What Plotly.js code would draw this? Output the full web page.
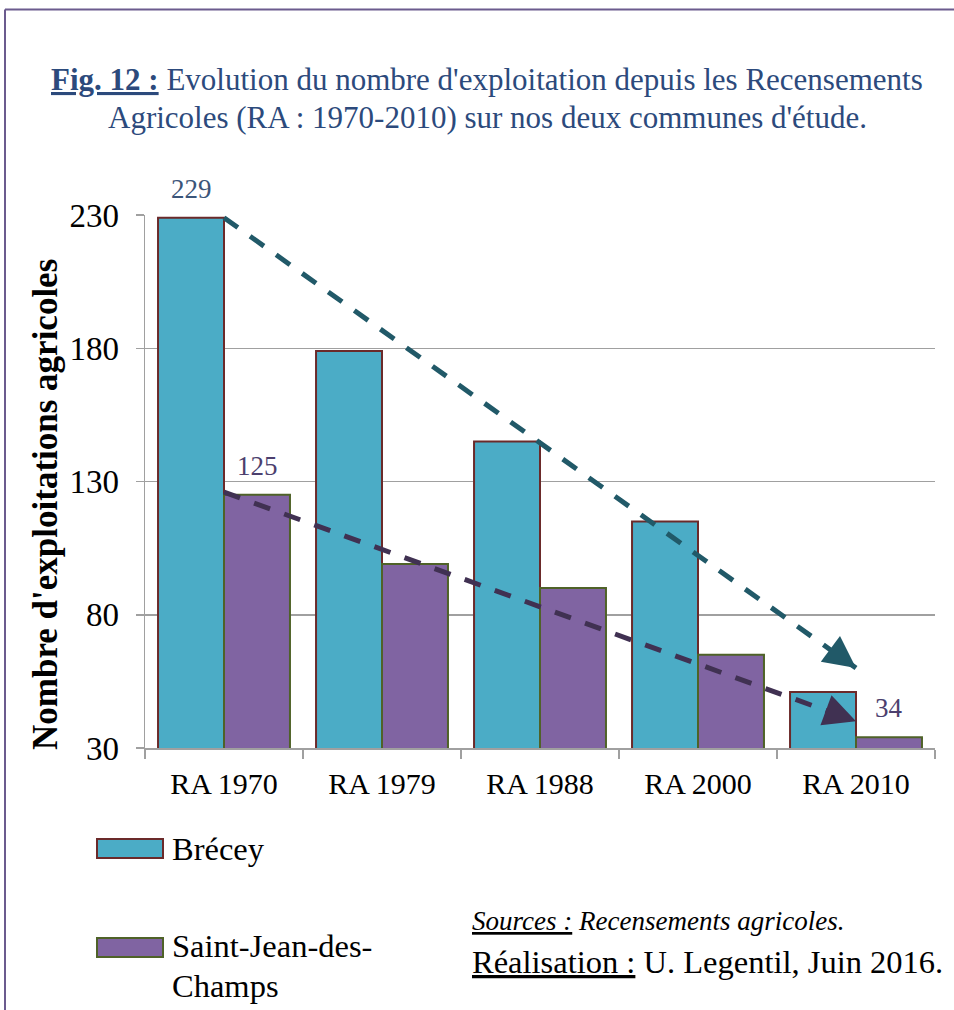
<!DOCTYPE html>
<html><head><meta charset="utf-8">
<script src="https://cdn.plot.ly/plotly-3.0.1.min.js"></script>
<style>body{margin:0;background:#fff}#chart{width:954px;height:1010px}</style>
</head><body><div id="chart"></div>
<script>
const categories = ['RA 1970','RA 1979','RA 1988','RA 2000','RA 2010'];
const brecey = [229, 179, 145, 115, 51];
const saintJean = [125, 99, 90, 65, 34];
const trendBreceyY = [229, 60];
const trendSaintY = [126, 40];
const trendX = [0, 4];
const yTicks = [30, 80, 130, 180, 230];

const serif = '"Liberation Serif", "Times New Roman", Times, serif';
const W = 954, H = 1010, L = 145, R = 19, T = 215, B = 262;
const pw = W - L - R, ph = H - T - B;
const px = v => (v - L) / pw;
const py = v => (H - B - v) / ph;

const traces = [
  {type:'bar', name:'Brécey', x:categories, y:brecey,
   marker:{color:'#4bacc6', line:{color:'#6b2a2a', width:2}}},
  {type:'bar', name:'Saint-Jean-des-Champs', x:categories, y:saintJean,
   marker:{color:'#8064a2', line:{color:'#4f6228', width:2}}}
];

const shapes = [
  {type:'line', xref:'x', yref:'y', x0:trendX[0], x1:trendX[1], y0:trendBreceyY[0], y1:trendBreceyY[1],
   line:{color:'#215968', width:5, dash:'17px,15px'}},
  {type:'line', xref:'x', yref:'y', x0:trendX[0], x1:trendX[1], y0:trendSaintY[0], y1:trendSaintY[1],
   line:{color:'#403152', width:5, dash:'17px,15px'}},
  {type:'line', xref:'paper', yref:'paper', x0:px(5), x1:px(960), y0:py(9.5), y1:py(9.5), line:{color:'#6b5b8e', width:2}},
  {type:'line', xref:'paper', yref:'paper', x0:px(5), x1:px(5), y0:py(9.5), y1:py(1015), line:{color:'#6b5b8e', width:2}},
  {type:'rect', xref:'paper', yref:'paper', x0:px(97), x1:px(163), y0:py(839), y1:py(858), fillcolor:'#4bacc6', line:{color:'#6b2a2a', width:2}},
  {type:'rect', xref:'paper', yref:'paper', x0:px(97), x1:px(163), y0:py(938), y1:py(957), fillcolor:'#8064a2', line:{color:'#4f6228', width:2}}
];

const annotations = [
  {xref:'paper', yref:'paper', x:px(487), y:py(80), text:'<b><u>Fig. 12 :</u></b> Evolution du nombre d\'exploitation depuis les Recensements',
   showarrow:false, font:{family:serif, size:31, color:'#2c4a7c'}, xanchor:'center', yanchor:'middle'},
  {xref:'paper', yref:'paper', x:px(487), y:py(118), text:'Agricoles (RA : 1970-2010) sur nos deux communes d\'étude.',
   showarrow:false, font:{family:serif, size:31, color:'#2c4a7c'}, xanchor:'center', yanchor:'middle'},
  {xref:'paper', yref:'paper', x:px(45), y:py(505), text:'<b>Nombre d\'exploitations agricoles</b>', textangle:-90,
   showarrow:false, font:{family:serif, size:35, color:'#000'}, xanchor:'center', yanchor:'middle'},
  {xref:'x', yref:'y', x:0, y:brecey[0], xshift:-33, yshift:12, yanchor:'bottom', text:String(brecey[0]), showarrow:false,
   font:{family:serif, size:27, color:'#3b5579'}},
  {xref:'x', yref:'y', x:0, y:saintJean[0], xshift:33, yshift:12, yanchor:'bottom', text:String(saintJean[0]), showarrow:false,
   font:{family:serif, size:27, color:'#4c3f6e'}},
  {xref:'x', yref:'y', x:4, y:saintJean[4], xshift:33, yshift:12, yanchor:'bottom', text:String(saintJean[4]), showarrow:false,
   font:{family:serif, size:27, color:'#4c3f6e'}},
  {xref:'x', yref:'y', x:trendX[1], y:trendBreceyY[1], ax:-16, ay:-12, text:'', showarrow:true,
   arrowhead:2, arrowsize:1.6, arrowwidth:4, arrowcolor:'#215968'},
  {xref:'x', yref:'y', x:trendX[1], y:trendSaintY[1], ax:-19, ay:-7, text:'', showarrow:true,
   arrowhead:2, arrowsize:1.6, arrowwidth:4, arrowcolor:'#403152'},
  {xref:'paper', yref:'paper', x:px(170), y:py(849), text:'Brécey', showarrow:false, xanchor:'left', yanchor:'middle',
   font:{family:serif, size:32.5, color:'#000'}},
  {xref:'paper', yref:'paper', x:px(170), y:py(946), text:'Saint-Jean-des-', showarrow:false, xanchor:'left', yanchor:'middle',
   font:{family:serif, size:32.5, color:'#000'}},
  {xref:'paper', yref:'paper', x:px(170), y:py(986), text:'Champs', showarrow:false, xanchor:'left', yanchor:'middle',
   font:{family:serif, size:32.5, color:'#000'}},
  {xref:'paper', yref:'paper', x:px(470), y:py(921), text:'<i><u>Sources :</u> Recensements agricoles.</i>', showarrow:false, xanchor:'left', yanchor:'middle',
   font:{family:serif, size:27, color:'#000'}},
  {xref:'paper', yref:'paper', x:px(470), y:py(962), text:'<u>Réalisation :</u> U. Legentil, Juin 2016.', showarrow:false, xanchor:'left', yanchor:'middle',
   font:{family:serif, size:32.5, color:'#000'}}
];

const layout = {
  width:W, height:H, margin:{l:L, r:R, t:T, b:B},
  paper_bgcolor:'#fff', plot_bgcolor:'#fff',
  showlegend:false, barmode:'group', bargap:0.165, bargroupgap:0,
  font:{family:serif, color:'#000'},
  xaxis:{type:'category', showline:true, linecolor:'#a0a0a0', linewidth:1.5, ticks:'outside', tickson:'boundaries',
         ticklen:9, tickcolor:'#a0a0a0', tickwidth:1.5, ticklabelstandoff:8,
         tickfont:{family:serif, size:30, color:'#000'}, showgrid:false},
  yaxis:{range:[30,230], tickvals:yTicks, showline:true, linecolor:'#a0a0a0', linewidth:1.5, ticks:'outside', ticklen:8,
         tickcolor:'#a0a0a0', tickwidth:1.5, gridcolor:'#a0a0a0', gridwidth:1.5, zeroline:false, ticklabelstandoff:10,
         tickfont:{family:serif, size:33, color:'#000'}},
  shapes:shapes, annotations:annotations
};

Plotly.newPlot('chart', traces, layout, {displayModeBar:false, staticPlot:true});
</script></body></html>
